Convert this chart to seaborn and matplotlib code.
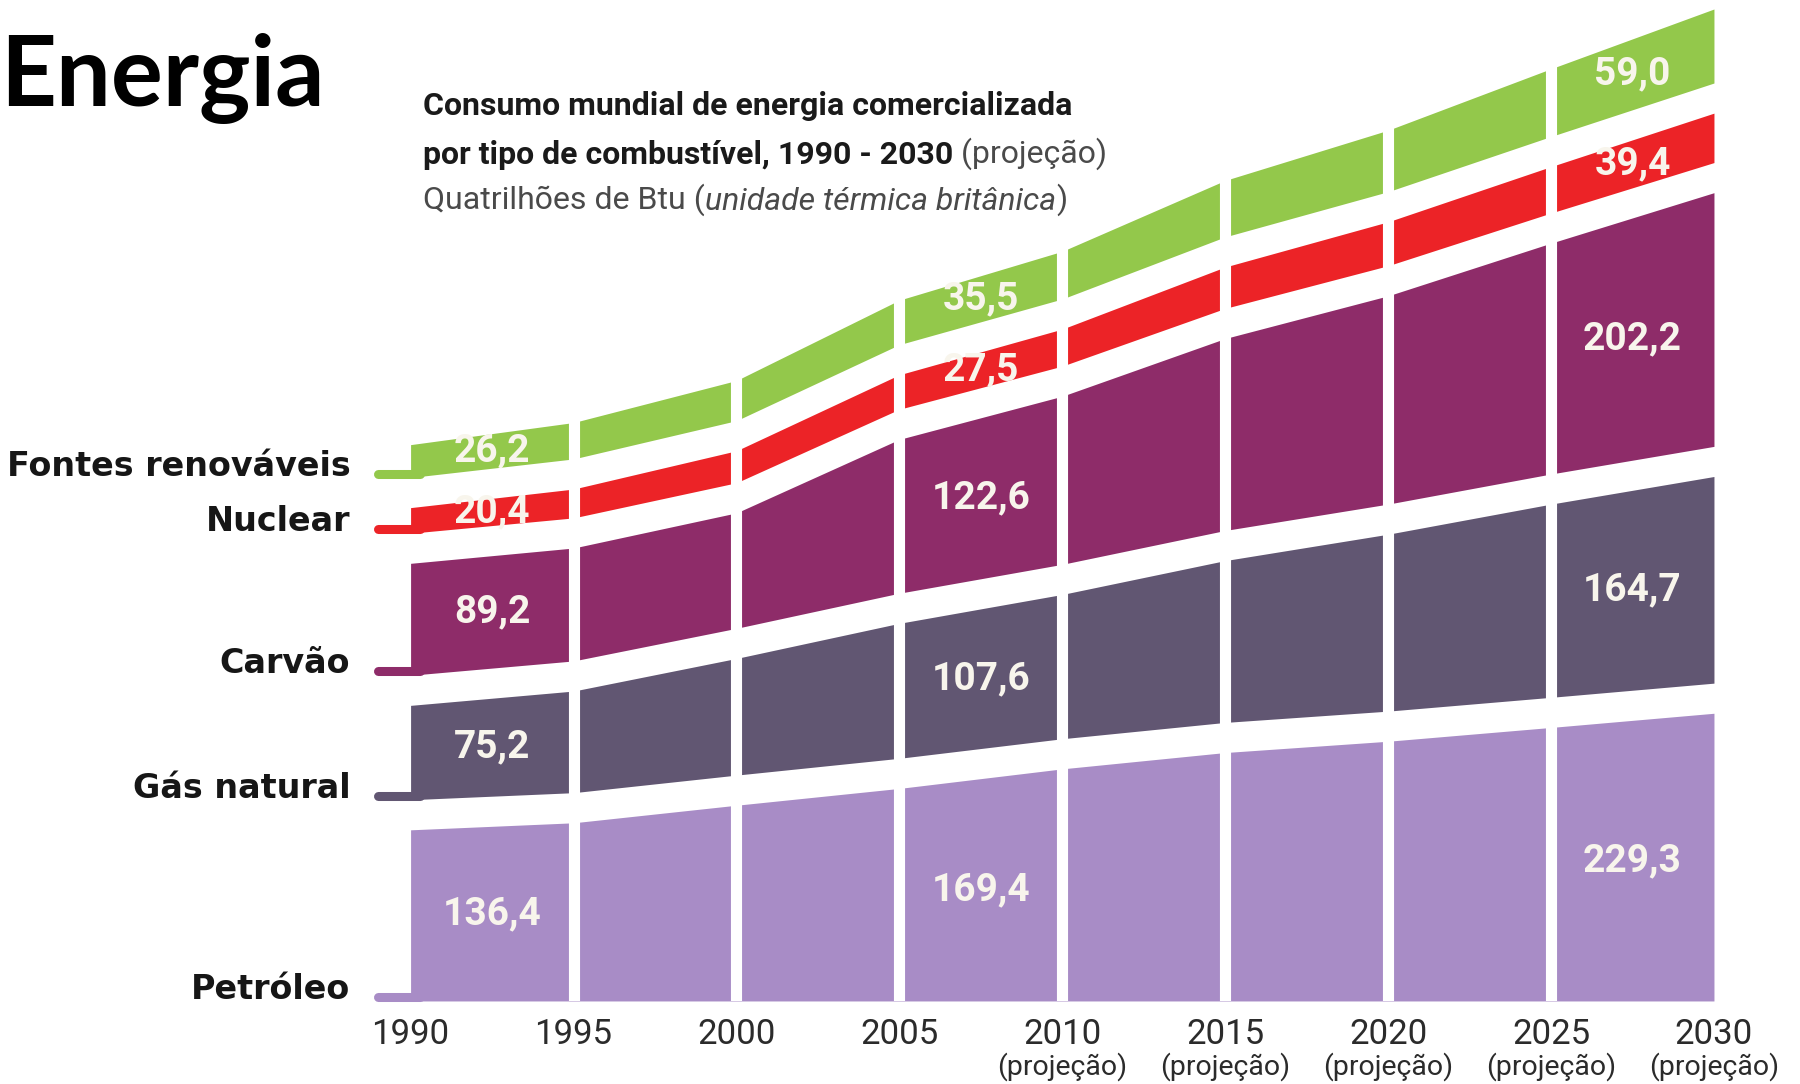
import numpy as np
import pandas as pd
import matplotlib
matplotlib.use("Agg")
import matplotlib.pyplot as plt
import matplotlib.transforms as mtransforms
from matplotlib import font_manager
import seaborn as sns

# ---- data (quatrilhões de Btu) ----
years = [1990, 1995, 2000, 2005, 2010, 2015, 2020, 2025, 2030]
year_notes = ["", "", "", "", "(projeção)", "(projeção)", "(projeção)", "(projeção)", "(projeção)"]

fuels = ["Petróleo", "Gás natural", "Carvão", "Nuclear", "Fontes renováveis"]
petroleo = [136.4, 142.0, 156.0, 169.4, 185.0, 198.0, 207.0, 218.0, 229.3]
gas_natural = [75.2, 81.0, 93.0, 107.6, 115.0, 129.0, 141.0, 154.0, 164.7]
carvao = [89.2, 90.0, 92.0, 122.6, 134.0, 153.0, 166.0, 184.0, 202.2]
nuclear = [20.4, 23.0, 25.5, 27.5, 29.5, 33.0, 35.0, 37.0, 39.4]
renovaveis = [26.2, 29.0, 32.0, 35.5, 38.0, 45.0, 49.0, 54.0, 59.0]

# years whose values are printed inside the bands
labelled_years = [1990, 2005, 2030]

colors = {
    "Petróleo": "#a88cc6",
    "Gás natural": "#615672",
    "Carvão": "#8e2c69",
    "Nuclear": "#ec2327",
    "Fontes renováveis": "#93c84b",
}

df = pd.DataFrame({
    "Petróleo": petroleo,
    "Gás natural": gas_natural,
    "Carvão": carvao,
    "Nuclear": nuclear,
    "Fontes renováveis": renovaveis,
}, index=years)

sns.set_theme(style="white")
plt.rcParams["font.family"] = ["DejaVu Sans"]

installed = {f.name for f in font_manager.fontManager.ttflist}
narrow = "Liberation Sans Narrow" if "Liberation Sans Narrow" in installed else "Roboto"

gap = 24          # white band between fuels
x_left = 1989.0   # where the little stubs start

fig = plt.figure(figsize=(18, 10.84), dpi=100)
ax = fig.add_axes([0.2100, 0.0766, 0.7422, 0.9151])

x = np.array(years, dtype=float)
base = np.zeros(len(years))
for fuel in fuels:
    vals = df[fuel].to_numpy()
    lo = base.copy()
    hi = lo + vals
    c = colors[fuel]
    ax.fill_between(x, lo, hi, color=c, lw=0, zorder=1)

    # stub going left to the label
    ax.plot([x_left, x[0] + 0.3], [lo[0] + 3, lo[0] + 3], color=c, lw=6.5,
            solid_capstyle="round", zorder=0, clip_on=False)
    ax.text(x_left - 0.85, lo[0] + 9, fuel, ha="right", va="center",
            fontsize=24, fontweight="bold", color="#161616")

    # printed values
    mid = (lo + hi) / 2
    for y in labelled_years:
        i = years.index(y)
        xa, xb = (years[i - 1], years[i]) if i == len(years) - 1 else (years[i], years[i + 1])
        xm = (xa + xb) / 2
        ax.text(xm, np.interp(xm, x, mid), f"{vals[i]:.1f}".replace(".", ","),
                ha="center", va="center", fontsize=28, fontweight="bold",
                family="Roboto", color="#f8f5ec", zorder=3)

    base = hi + gap

# white gaps between the 5-year blocks
for y in years[1:-1]:
    ax.axvline(y, color="white", lw=8, zorder=2)

ax.set_xlim(x_left, 2030)
ax.set_ylim(0, (base - gap)[-1])
ax.set_yticks([])
ax.set_xticks(years)
ax.set_xticklabels([str(y) for y in years], family=narrow, fontsize=25, color="#2b2b2b")
ax.tick_params(axis="x", length=0, pad=12)
sns.despine(ax=ax, left=True, bottom=True)

trans = mtransforms.blended_transform_factory(ax.transData, ax.transAxes)
for y, note in zip(years, year_notes):
    if note:
        ax.text(y, -0.066, note, transform=trans, ha="center", va="center",
                family=narrow, fontsize=20.5, color="#2b2b2b")

# ---- titles ----
fig.text(0.0, 0.928, "Energia", fontsize=70, fontweight="bold", family="Lato",
         va="center", ha="left", color="black")

t1 = fig.text(0.235, 0.902, "Consumo mundial de energia comercializada", family=narrow,
              fontsize=23, fontweight="bold", va="center", color="#1a1a1a")
t2 = fig.text(0.235, 0.857, "por tipo de combustível, 1990 - 2030", family=narrow,
              fontsize=23, fontweight="bold", va="center", color="#1a1a1a")
ax.annotate(" (projeção)", xy=(1, 0), xycoords=t2, ha="left", va="bottom",
            family=narrow, fontsize=23, color="#4a4a4a")
t3 = fig.text(0.235, 0.816, "Quatrilhões de Btu (", family=narrow,
              fontsize=23, va="center", color="#4a4a4a")
t4 = ax.annotate("unidade térmica britânica", xy=(1, 0), xycoords=t3, ha="left", va="bottom",
                 family=narrow, fontsize=23, style="italic", color="#4a4a4a")
ax.annotate(")", xy=(1, 0), xycoords=t4, ha="left", va="bottom",
            family=narrow, fontsize=23, color="#4a4a4a")

fig.savefig("out.png", dpi=100)
